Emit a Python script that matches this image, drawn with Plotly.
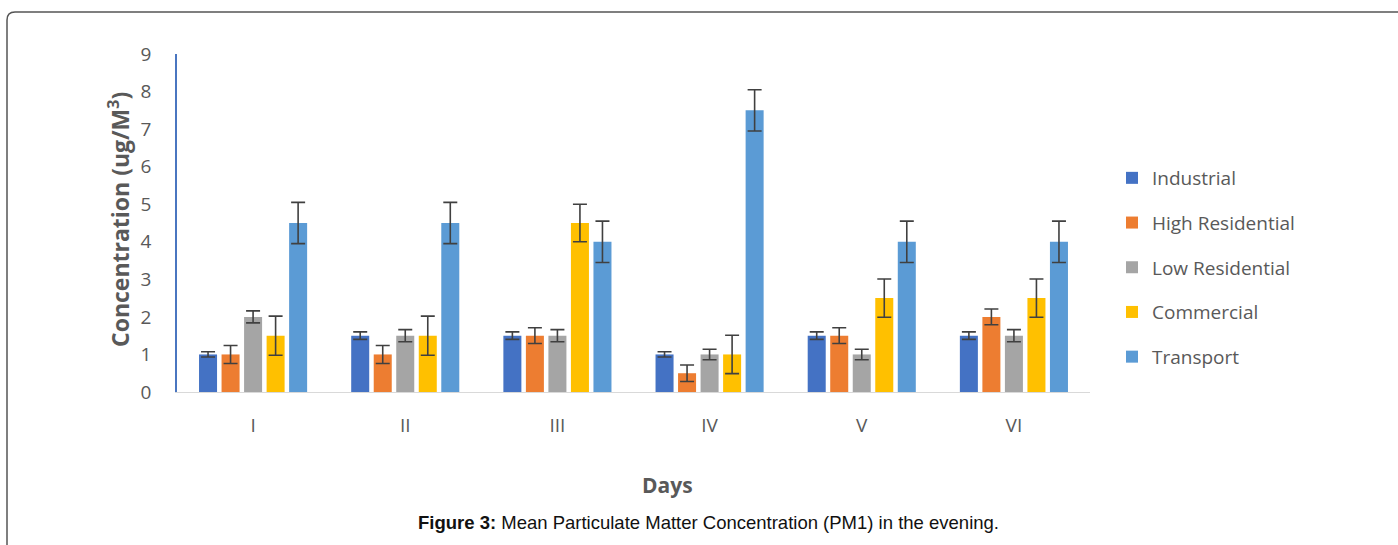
import plotly.graph_objects as go

days = ["I", "II", "III", "IV", "V", "VI"]
series_names = ["Industrial", "High Residential", "Low Residential", "Commercial", "Transport"]
industrial = [1, 1.5, 1.5, 1, 1.5, 1.5]
high_res = [1, 1, 1.5, 0.5, 1.5, 2]
low_res = [2, 1.5, 1.5, 1, 1, 1.5]
commercial = [1.5, 1.5, 4.5, 1, 2.5, 2.5]
transport = [4.5, 4.5, 4, 7.5, 4, 4]
err_industrial = [0.07, 0.1, 0.1, 0.07, 0.1, 0.1]
err_high_res = [0.24, 0.24, 0.21, 0.22, 0.21, 0.21]
err_low_res = [0.16, 0.16, 0.16, 0.14, 0.14, 0.16]
err_commercial = [0.52, 0.52, 0.5, 0.51, 0.51, 0.51]
err_transport = [0.55, 0.55, 0.55, 0.55, 0.55, 0.55]
y_ticks = [0, 1, 2, 3, 4, 5, 6, 7, 8, 9]

colors = ["#4472C4", "#ED7D31", "#A5A5A5", "#FFC000", "#5B9BD5"]
values = [industrial, high_res, low_res, commercial, transport]
errors = [err_industrial, err_high_res, err_low_res, err_commercial, err_transport]

W, H = 1398, 545
L, R, T, B = 177, 308, 54, 153
pw, ph = W - L - R, H - T - B

def px(x):
    return (x - L) / pw

def py(y):
    return (H - B - y) / ph

fig = go.Figure()
for i, (name, vals, errs) in enumerate(zip(series_names, values, errors)):
    fig.add_trace(go.Bar(
        x=days, y=vals, name=name, legendgroup=name,
        marker=dict(color=colors[i], line=dict(width=0)),
        error_y=dict(type="data", array=errs, visible=True,
                     color="#404040", thickness=1.6, width=7),
    ))

font_main = "Open Sans, Lato, sans-serif"
fig.update_layout(
    width=W, height=H,
    margin=dict(l=L, r=R, t=T, b=B),
    paper_bgcolor="white", plot_bgcolor="white",
    barmode="group", bargap=0.26, bargroupgap=0.2,
    showlegend=True,
    legend=dict(x=px(1112), y=py(159), xanchor="left", yanchor="top",
                font=dict(family=font_main, size=19, color="#595959"),
                tracegroupgap=17, bgcolor="rgba(0,0,0,0)"),
    xaxis=dict(showgrid=False, showline=True, linecolor="#D9D9D9", linewidth=1,
               ticks="", tickfont=dict(family=font_main, size=19, color="#595959"),
               ticklabelstandoff=16, zeroline=False),
    yaxis=dict(range=[0, 9], tickvals=y_ticks, showgrid=False, showline=True,
               linecolor="#4a76c0", linewidth=1.5, ticks="", zeroline=False,
               tickfont=dict(family=font_main, size=19, color="#595959"),
               ticklabelstandoff=20),
    font=dict(family=font_main),
)

fig.add_annotation(text="<b>Concentration (ug/M<sup>3</sup>)</b>", textangle=-90,
                   xref="paper", yref="paper", x=px(119), y=py(220),
                   xanchor="center", yanchor="middle",
                   showarrow=False, font=dict(family=font_main, size=23, color="#595959"))
fig.add_annotation(text="<b>Days</b>", xref="paper", yref="paper",
                   x=px(667), y=py(485), xanchor="center", yanchor="middle", showarrow=False,
                   font=dict(family=font_main, size=21, color="#595959"))
fig.add_annotation(text="<b>Figure 3:</b> Mean Particulate Matter Concentration (PM1) in the evening.",
                   xref="paper", yref="paper", x=px(708), y=py(522),
                   xanchor="center", yanchor="middle", showarrow=False,
                   font=dict(family="Liberation Sans, Arial", size=18.5, color="#111111"))

# rounded border frame
x0, y0, x1, y1 = px(7), py(12), px(1400), py(546)
rx, ry = 8 / pw, 8 / ph
path = (f"M {x0},{y1} L {x0},{y0 - ry} Q {x0},{y0} {x0 + rx},{y0} L {x1},{y0}")
fig.add_shape(type="path", path=path, xref="paper", yref="paper",
              line=dict(color="#555555", width=1.5))

fig.write_html("out.html")
